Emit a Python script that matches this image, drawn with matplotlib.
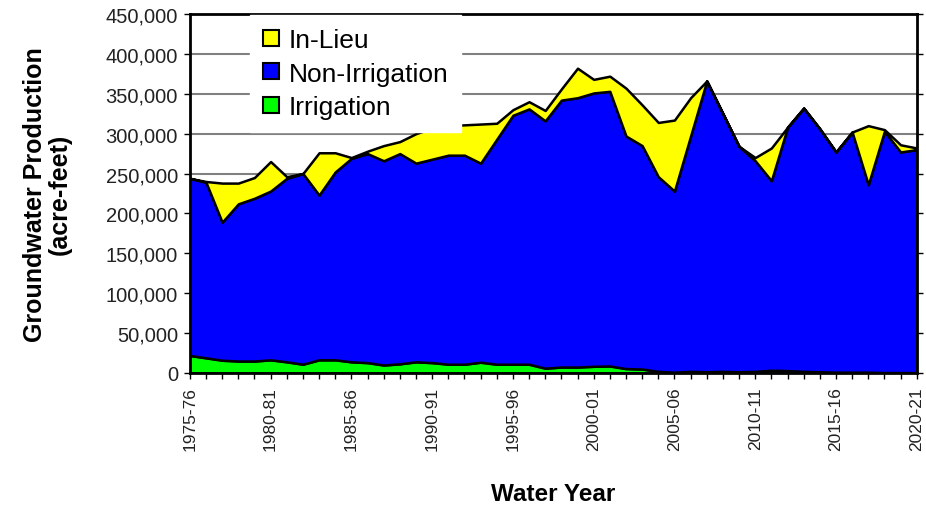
import matplotlib.pyplot as plt
from matplotlib.ticker import FuncFormatter, MultipleLocator

# water years 1975-76 .. 2020-21
start_years = list(range(1975, 2021))
water_years = [f"{y}-{(y + 1) % 100:02d}" for y in start_years]
labeled_years = ["1975-76", "1980-81", "1985-86", "1990-91", "1995-96",
                 "2000-01", "2005-06", "2010-11", "2015-16", "2020-21"]

# acre-feet
irrigation = [22000, 19000, 16000, 15000, 15000, 16500, 14000, 11000, 16500, 16500,
              14000, 13000, 10000, 11500, 14000, 13000, 11000, 11000, 13500, 11000,
              11000, 11000, 6000, 7500, 7500, 8400, 8800, 5500, 5000, 2000,
              1000, 2000, 1500, 2000, 1500, 2000, 3500, 3000, 2000, 1500,
              1000, 1000, 1000, 500, 500, 500]
non_irrigation = [222000, 220000, 173000, 197000, 204000, 211500, 230000, 239000, 206500, 235500,
                  255000, 262000, 256000, 263500, 249000, 255000, 262000, 262000, 249500, 282000,
                  312000, 320000, 310000, 334500, 337500, 342600, 344200, 291500, 280000, 244000,
                  227000, 295000, 364500, 323000, 282500, 264000, 237500, 305000, 330000, 304500,
                  276000, 301000, 235000, 302500, 276500, 279500]
in_lieu = [0, 1000, 49000, 26000, 26000, 37000, 2000, 0, 53000, 24000,
           1000, 3000, 19000, 15000, 37000, 39000, 37000, 38000, 49000, 20000,
           7000, 9000, 13000, 14000, 37000, 17000, 19000, 60000, 51000, 68000,
           89000, 48000, 0, 0, 0, 4000, 41000, 0, 0, 0,
           0, 0, 74000, 2000, 9000, 2000]

plt.rcParams["font.family"] = ["Liberation Sans", "DejaVu Sans"]

fig = plt.figure(figsize=(9.26, 5.10), dpi=100)
ax = fig.add_axes([0.205, 0.2667, 0.785, 0.704])

x = list(range(len(water_years)))
ax.stackplot(
    x, irrigation, non_irrigation, in_lieu,
    colors=["#00FF00", "#0000FF", "#FFFF00"],
    labels=["Irrigation", "Non-Irrigation", "In-Lieu"],
    edgecolor="black", linewidth=1.8, zorder=2,
)

ax.set_xlim(0, len(water_years) - 1)
ax.set_ylim(0, 450000)
ax.yaxis.set_major_locator(MultipleLocator(50000))
ax.yaxis.set_major_formatter(FuncFormatter(lambda v, p: f"{int(v):,}"))
ax.grid(axis="y", color="#808080", linewidth=1.5, zorder=0)
ax.set_axisbelow(True)

ax.set_xticks(x)
ax.set_xticklabels([w if w in labeled_years else "" for w in water_years],
                   rotation=90, fontsize=12.5, color="#222222")
ax.tick_params(axis="x", direction="out", length=4.5, width=1, pad=5)
ax.tick_params(axis="y", direction="out", length=4.5, width=1, labelsize=14.5,
               labelcolor="#222222", right=True, pad=4)

for side in ["left", "right", "top", "bottom"]:
    ax.spines[side].set_linewidth(2)
    ax.spines[side].set_color("black")

ax.set_xlabel("Water Year", fontsize=17.5, fontweight="bold", va="top")
ax.xaxis.set_label_coords(0.5, -0.305)
ax.set_ylabel("Groundwater Production\n(acre-feet)", fontsize=18,
              fontweight="bold", linespacing=1.0)
ax.yaxis.set_label_coords(-0.163, 0.5)

handles, labels = ax.get_legend_handles_labels()
leg = ax.legend(handles[::-1], labels[::-1], loc="upper left",
                bbox_to_anchor=(0.083, 0.997), fontsize=19,
                frameon=True, fancybox=False, framealpha=1,
                handlelength=0.6, handleheight=0.55, handletextpad=0.35,
                labelspacing=0.36, borderpad=0.5, borderaxespad=0)
leg.get_frame().set_edgecolor("white")
leg.get_frame().set_facecolor("white")
for h in leg.legend_handles:
    h.set_edgecolor("black")
    h.set_linewidth(1.5)

fig.savefig("out.png", dpi=100)
